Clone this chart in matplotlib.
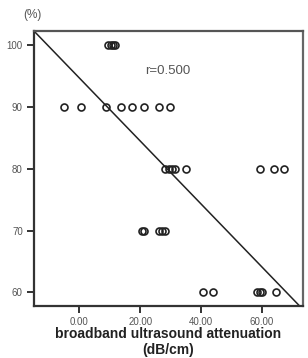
import matplotlib
matplotlib.use("Agg")
import matplotlib.pyplot as plt
import numpy as np

# data
x_100 = [9.5, 10.3, 11.0, 11.8]
x_90 = [-5.0, 0.6, 8.8, 13.7, 17.4, 21.3, 26.3, 29.9]
x_80 = [28.2, 29.6, 30.6, 31.6, 35.2, 59.5, 64.1, 67.4]
x_70 = [20.6, 21.1, 26.2, 27.2, 28.3]
x_60 = [40.5, 43.8, 58.6, 59.4, 60.2, 64.8]
y_levels = [100, 90, 80, 70, 60]

fit_intercept = 94.7
fit_slope = -0.509
r_text = "r=0.500"

xticks = [0, 20, 40, 60]
xticklabels = ["0.00", "20.00", "40.00", "60.00"]
yticks = [60, 70, 80, 90, 100]

plt.rcParams['font.family'] = ['Liberation Sans', 'DejaVu Sans']

fig = plt.figure(figsize=(3.08, 3.58), dpi=100)
ax = fig.add_axes([0.110, 0.145, 0.874, 0.768])

groups = [x_100, x_90, x_80, x_70, x_60]
for xs, yv in zip(groups, y_levels):
    ax.plot(xs, [yv] * len(xs), linestyle='none', marker='o', markersize=5,
            markerfacecolor='none', markeredgecolor='#222222', markeredgewidth=1.2)

xl = (-15, 73.6)
xx = np.array(xl)
ax.plot(xx, fit_intercept + fit_slope * xx, color='#222222', lw=1.1)

ax.set_xlim(*xl)
ax.set_ylim(57.8, 102.3)
ax.set_xticks(xticks)
ax.set_xticklabels(xticklabels)
ax.set_yticks(yticks)

for s in ax.spines.values():
    s.set_linewidth(1.6)
    s.set_color('#333333')
ax.spines['right'].set_color('#666666')
ax.spines['top'].set_color('#555555')
ax.tick_params(direction='out', length=5, width=1.4, color='#333333',
               labelsize=7, labelcolor='#555555', pad=3)

ax.text(0.414, 0.856, r_text, transform=ax.transAxes, fontsize=9.5, color='#555555', va='center', ha='left')

fig.text(23 / 308, 1 - 15 / 358, "(%)", fontsize=8.5, color='#555555', va='center', ha='left')
fig.text(168 / 308, 1 - 334 / 358, "broadband ultrasound attenuation", fontsize=10,
         fontweight='bold', color='#222222', ha='center', va='center')
fig.text(168 / 308, 1 - 350 / 358, "(dB/cm)", fontsize=10,
         fontweight='bold', color='#222222', ha='center', va='center')

fig.savefig("out.png", dpi=100, facecolor='white')
